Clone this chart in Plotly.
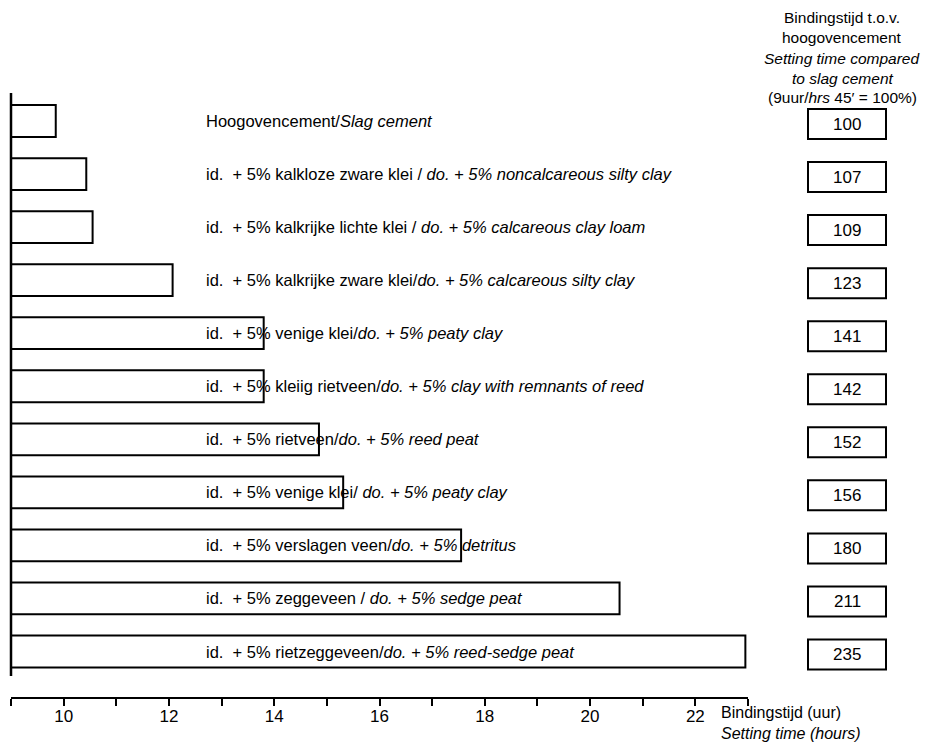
import plotly.graph_objects as go

# ---- data -------------------------------------------------------------
labels_nl = [
    "Hoogovencement",
    "id.&nbsp; + 5% kalkloze zware klei ",
    "id.&nbsp; + 5% kalkrijke lichte klei ",
    "id.&nbsp; + 5% kalkrijke zware klei",
    "id.&nbsp; + 5% venige klei",
    "id.&nbsp; + 5% kleiig rietveen",
    "id.&nbsp; + 5% rietveen",
    "id.&nbsp; + 5% venige klei",
    "id.&nbsp; + 5% verslagen veen",
    "id.&nbsp; + 5% zeggeveen ",
    "id.&nbsp; + 5% rietzeggeveen",
]
labels_en = [
    "Slag cement",
    " do. + 5% noncalcareous silty clay",
    " do. + 5% calcareous clay loam",
    "do. + 5% calcareous silty clay",
    "do. + 5% peaty clay",
    "do. + 5% clay with remnants of reed",
    "do. + 5% reed peat",
    " do. + 5% peaty clay",
    "do. + 5% detritus",
    " do. + 5% sedge peat",
    "do. + 5% reed-sedge peat",
]
setting_hours = [9.85, 10.43, 10.55, 12.07, 13.8, 13.8, 14.85, 15.31, 17.55, 20.56, 22.95]
relative_pct = [100, 107, 109, 123, 141, 142, 152, 156, 180, 211, 235]
x_tick_values = list(range(9, 24))
x_tick_labels = [str(v) if v % 2 == 0 and 10 <= v <= 22 else "" for v in x_tick_values]
axis_start = 9
axis_end = 23

header_lines = [
    "Bindingstijd t.o.v.",
    "hoogovencement",
    "<i>Setting time compared</i>",
    "<i>to slag cement</i>",
    "(9uur/<i>hrs</i> 45′ = 100%)",
]
xaxis_title = "Bindingstijd (uur)<br><i>Setting time (hours)</i>"

# ---- layout geometry (page pixels; the page body adds an 8px margin) --
OFF = 8
W, H = 930 - OFF, 742 - OFF
PL, PR, PT, PB = 11, 748, 93, 697          # plot area edges, page pixels
n = len(setting_hours)
ROW0, ROWSTEP = 121, 53.05                 # centre of first row, row pitch


def px_to_paper_x(px):
    return (px - PL) / (PR - PL)


def px_to_paper_y(py):
    return (PB - py) / (PB - PT)


y_top = (PT - ROW0) / ROWSTEP
y_bot = (PB - ROW0) / ROWSTEP

FONT = "Liberation Sans, Arial, sans-serif"

fig = go.Figure()
fig.add_trace(go.Bar(
    y=list(range(n)),
    x=[h - axis_start for h in setting_hours],
    base=axis_start,
    orientation="h",
    width=0.6,
    marker=dict(color="white", line=dict(color="black", width=2)),
    hoverinfo="skip",
))

shapes = []
annotations = []

# left vertical axis line
shapes.append(dict(type="line", xref="paper", yref="paper",
                   x0=0, x1=0, y0=px_to_paper_y(676), y1=1.0,
                   line=dict(color="black", width=2.5)))

for i in range(n):
    annotations.append(dict(
        xref="paper", yref="y", x=px_to_paper_x(204), y=i,
        text=f"{labels_nl[i]}/<i>{labels_en[i]}</i>",
        showarrow=False, xanchor="left", yanchor="middle",
        font=dict(family=FONT, size=16.5, color="black"),
    ))
    # value boxes
    yc = i + 3 / ROWSTEP
    half = 15 / ROWSTEP
    shapes.append(dict(type="rect", xref="paper", yref="y",
                       x0=px_to_paper_x(808), x1=px_to_paper_x(886),
                       y0=yc - half, y1=yc + half,
                       line=dict(color="black", width=2), fillcolor="white"))
    annotations.append(dict(
        xref="paper", yref="y", x=px_to_paper_x(847), y=yc,
        text=str(relative_pct[i]), showarrow=False,
        xanchor="center", yanchor="middle",
        font=dict(family=FONT, size=17, color="black"),
    ))

header_y = [18, 38, 58, 78, 98]
for line, py in zip(header_lines, header_y):
    annotations.append(dict(
        xref="paper", yref="paper", x=px_to_paper_x(842), y=px_to_paper_y(py),
        text=line, showarrow=False, xanchor="center", yanchor="middle",
        font=dict(family=FONT, size=15.5, color="black"),
    ))

annotations.append(dict(
    xref="paper", yref="paper", x=px_to_paper_x(719), y=px_to_paper_y(723),
    text=xaxis_title, showarrow=False, xanchor="left", yanchor="middle",
    align="left", font=dict(family=FONT, size=16, color="black"),
))

fig.update_layout(
    width=W, height=H,
    margin=dict(l=PL - OFF, r=(930 - PR), t=PT - OFF, b=(742 - PB), pad=0),
    plot_bgcolor="white", paper_bgcolor="white",
    showlegend=False,
    font=dict(family=FONT, color="black"),
    xaxis=dict(range=[axis_start, axis_end], showgrid=False, zeroline=False,
               showline=True, linecolor="black", linewidth=2,
               ticks="outside", ticklen=7, tickwidth=2, tickcolor="black",
               tickvals=x_tick_values, ticktext=x_tick_labels,
               ticklabelstandoff=-4,
               tickfont=dict(family=FONT, size=17, color="black"),
               fixedrange=True),
    yaxis=dict(range=[y_bot, y_top], visible=False, fixedrange=True),
    shapes=shapes,
    annotations=annotations,
)

fig.write_html("out.html")
